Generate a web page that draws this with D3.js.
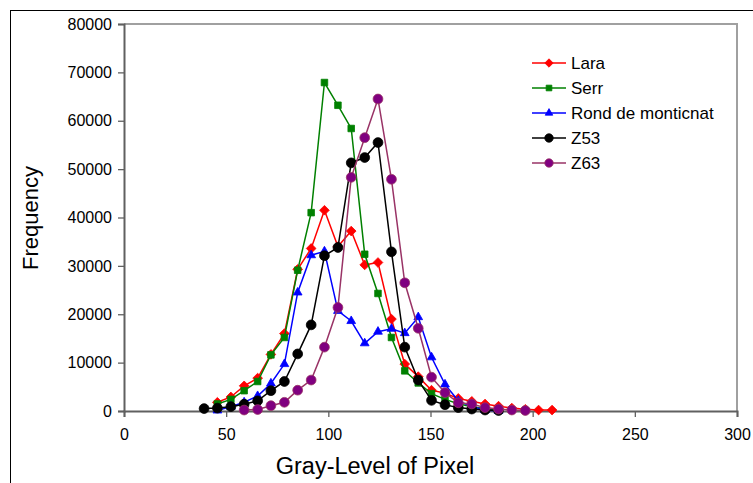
<!DOCTYPE html>
<html>
<head>
<meta charset="utf-8">
<script src="https://cdn.jsdelivr.net/npm/d3@7"></script>
<style>
  body { margin: 0; background: #fff; }
  svg { display: block; font-family: "Liberation Sans", Arial, sans-serif; }
</style>
</head>
<body>
<svg width="753" height="483"></svg>
<script>
let width = 753, height = 483;

// gray level bins
let grayLevels = [39.2, 45.7, 52.3, 58.8, 65.4, 71.9, 78.5, 85.0, 91.6, 98.1, 104.7, 111.2, 117.8, 124.3,
    130.9, 137.4, 144.0, 150.5, 157.1, 163.6, 170.2, 176.7, 183.3, 189.8, 196.4, 202.9, 209.5];

let lara = [null, 1800, 2900, 5200, 6800, 11700, 16000, 29300, 33600, 41500, 34000, 37200, 30200, 30700,
    19000, 9700, 7100, 4300, 3700, 2600, 2000, 1450, 1000, 600, 350, 200, 200];
let serr = [null, 1450, 2400, 4200, 6100, 11600, 15200, 29100, 41000, 67900, 63200, 58400, 32400, 24300,
    15200, 8300, 5800, 3600, 2400, 1500, 900, 500, 200, null, null, null, null];
let rond = [null, 100, 900, 1800, 3100, 5700, 9700, 24500, 32200, 33000, 20700, 18600, 14000, 16400,
    17000, 16100, 19400, 11100, 5500, 2100, 900, 200, 0, null, null, null, null];
let z53 = [500, 600, 900, 1400, 2100, 4200, 6100, 11800, 17800, 32100, 33800, 51300, 52400, 55500,
    32900, 13200, 6400, 2200, 1300, 700, 400, 200, 100, null, null, null, null];
let z63 = [null, null, null, 200, 300, 1100, 1800, 4300, 6400, 13200, 21400, 48300, 56500, 64500,
    47900, 26500, 17100, 7000, 3800, 1700, 1450, 700, 400, 200, 100, null, null];

let xTicks = [0, 50, 100, 150, 200, 250, 300];
let yTicks = [0, 10000, 20000, 30000, 40000, 50000, 60000, 70000, 80000];

let series = [
    { name: "Lara", values: lara, line: "#ff0000", fill: "#ff0000", symbol: d3.symbolDiamond2, size: 60 },
    { name: "Serr", values: serr, line: "#008000", fill: "#008000", symbol: d3.symbolSquare2, size: 55 },
    { name: "Rond de monticnat", values: rond, line: "#0000ff", fill: "#0000ff", symbol: d3.symbolTriangle2, size: 55 },
    { name: "Z53", values: z53, line: "#000000", fill: "#000000", symbol: d3.symbolCircle, size: 75 },
    { name: "Z63", values: z63, line: "#993366", fill: "#800080", symbol: d3.symbolCircle, size: 75 }
];

let svg = d3.select("svg");

let x = d3.scaleLinear().domain([0, 300]).range([124, 737]);
let y = d3.scaleLinear().domain([0, 80000]).range([411, 24]);

// outer chart frame
svg.append("rect")
    .attr("x", 10.5).attr("y", 10.5)
    .attr("width", 760).attr("height", 500)
    .attr("fill", "none").attr("stroke", "#000").attr("stroke-width", 1);

// plot area border (top and right)
svg.append("path")
    .attr("d", `M${x(0)},${y(80000)}H${x(300)}V${y(0)}`)
    .attr("fill", "none").attr("stroke", "#a0a0a0").attr("stroke-width", 2);

// axes
let xAxis = svg.append("g")
    .attr("transform", `translate(0,${y(0)})`)
    .call(d3.axisBottom(x).tickValues(xTicks).tickSize(6).tickPadding(12));
let yAxis = svg.append("g")
    .attr("transform", `translate(${x(0)},0)`)
    .call(d3.axisLeft(y).tickValues(yTicks).tickSize(6).tickPadding(6).tickFormat(d3.format("d")));

[xAxis, yAxis].forEach(a => {
    a.select(".domain").attr("stroke", "#606060").attr("stroke-width", 2);
    a.selectAll(".tick line").attr("stroke", "#606060").attr("stroke-width", 1.3);
    a.selectAll(".tick text").attr("fill", "#000").style("font-size", "16px")
        .style("font-family", "'Liberation Sans', Arial, sans-serif");
});

// axis titles
svg.append("text")
    .attr("x", 375).attr("y", 474)
    .attr("text-anchor", "middle")
    .style("font-size", "23.5px")
    .text("Gray-Level of Pixel");

svg.append("text")
    .attr("transform", "translate(38,218) rotate(-90)")
    .attr("text-anchor", "middle")
    .style("font-size", "22px")
    .text("Frequency");

// lines and markers
let line = d3.line()
    .defined(d => d[1] != null)
    .x(d => x(d[0]))
    .y(d => y(d[1]));

series.forEach(s => {
    let pts = grayLevels.map((g, i) => [g, s.values[i]]);
    let g = svg.append("g");
    g.append("path")
        .attr("d", line(pts))
        .attr("fill", "none")
        .attr("stroke", s.line)
        .attr("stroke-width", 1.5);
    g.selectAll("path.marker")
        .data(pts.filter(d => d[1] != null))
        .enter().append("path")
        .attr("class", "marker")
        .attr("transform", d => `translate(${x(d[0])},${y(d[1])})`)
        .attr("d", d3.symbol().type(s.symbol).size(s.size))
        .attr("fill", s.fill)
        .attr("stroke", s.line)
        .attr("stroke-width", 0.8);
});

// legend
let legend = svg.append("g").attr("id", "legend");
let legenditem = legend.selectAll(".legenditem")
    .data(series)
    .enter().append("g")
    .attr("class", "legenditem")
    .attr("transform", (d, i) => "translate(0," + (63 + i * 25) + ")");

legenditem.append("line")
    .attr("x1", 532).attr("x2", 566)
    .attr("stroke", d => d.line).attr("stroke-width", 1.5);
legenditem.append("path")
    .attr("transform", "translate(549,0)")
    .attr("d", d => d3.symbol().type(d.symbol).size(d.size * 0.75)())
    .attr("fill", d => d.fill)
    .attr("stroke", d => d.line)
    .attr("stroke-width", 0.8);
legenditem.append("text")
    .attr("x", 571).attr("y", 6)
    .style("font-size", "17px")
    .text(d => d.name);
</script>
</body>
</html>
